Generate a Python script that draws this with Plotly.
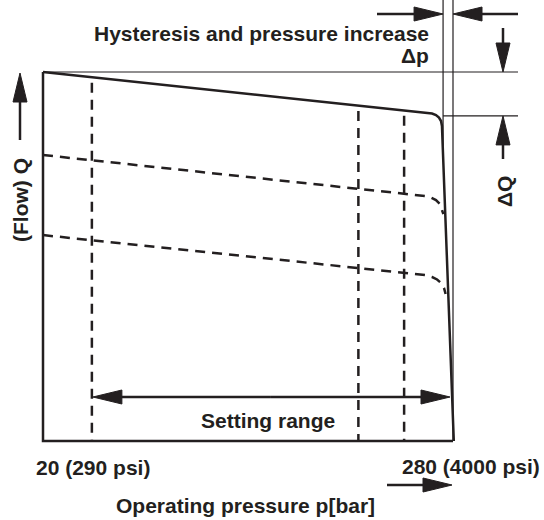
import numpy as np
import plotly.graph_objects as go

# ---------------- data (pressure in bar, flow Q in % of max) ----------------
tick_pressures = [20, 280]
tick_labels = ["20 (290 psi)", "280 (4000 psi)"]
setting_pressures = [51, 220, 249]          # dashed vertical setting lines

full_p = [20, 262.9, 266.7, 269.2, 271.1, 272.4, 273.0, 280.5]
full_q = [100, 89.0, 88.75, 88.35, 87.67, 86.72, 85.37, 0]

mid_p = [20, 262.2, 266.0, 269.2, 271.7, 273.0, 273.9]
mid_q = [77.5, 66.4, 65.99, 65.31, 64.23, 62.87, 61.5]

low_p = [20, 262.2, 266.7, 269.9, 272.4, 274.3, 275.3]
low_q = [55.8, 44.99, 44.44, 43.77, 42.82, 41.46, 39.84]

hyst_p = 273.7      # pressure where flow starts to drop (hysteresis line)
max_p = 280         # max pressure
hyst_q = 88.1       # flow at start of drop

# ---------------- geometry helpers ----------------
W, H = 544, 520
K = 410 / 260       # px per bar
S = 369 / 100       # px per % flow
X0, Y0 = 43, 441    # pixel of (20 bar, 0 %)


def X(px):
    return 20 + (px - X0) / K


def Y(py):
    return (Y0 - py) / S


def PX(p):
    return X0 + (p - 20) * K


def PY(q):
    return Y0 - q * S


INK = "#231f20"
FONT = dict(family="Liberation Sans, Arial, sans-serif", size=21, color=INK, weight="bold")

fig = go.Figure()


def line(xs, ys, width=2.5, dash=None):
    fig.add_trace(go.Scatter(x=xs, y=ys, mode="lines",
                             line=dict(color=INK, width=width, dash=dash),
                             hoverinfo="skip", showlegend=False))


def arrow(tail_px, tip_px, L=29, hw=7, width=2.5):
    tx, ty = tip_px
    sx, sy = tail_px
    d = np.array([tx - sx, ty - sy], float)
    d /= np.linalg.norm(d)
    n = np.array([-d[1], d[0]])
    base = np.array([tx, ty]) - d * L
    line([X(sx), X(base[0] + d[0] * 2)], [Y(sy), Y(base[1] + d[1] * 2)], width=width)
    c1 = base + n * hw
    c2 = base - n * hw
    xs = [tx, c1[0], c2[0], tx]
    ys = [ty, c1[1], c2[1], ty]
    fig.add_trace(go.Scatter(x=[X(v) for v in xs], y=[Y(v) for v in ys], mode="lines",
                             fill="toself", fillcolor=INK, line=dict(color=INK, width=1),
                             hoverinfo="skip", showlegend=False))


# frame (axes)
line([20, 20, max_p], [100, 0, 0], width=2.5)

# thin reference lines
right_edge = X(518)
line([20, right_edge], [100, 100], width=1.2)
line([max_p, max_p], [0, Y(0)], width=1.2)
line([hyst_p, hyst_p], [80, Y(0)], width=1.2)
line([hyst_p, right_edge], [hyst_q, hyst_q], width=1.2)

# setting lines (dashed verticals from top curve to bottom)
for p in setting_pressures:
    qtop = np.interp(p, full_p, full_q)
    line([p, p], [qtop - 1.5, 0], width=2.5, dash="10px,7px")

# characteristic curves
line(full_p, full_q, width=2.5)
line(mid_p, mid_q, width=2.5, dash="10px,7px")
line(low_p, low_q, width=2.5, dash="10px,7px")

# arrows
arrow((20, 140), (20, 73))                         # flow axis arrow
arrow((387, 485), (PX(max_p) - 1, 485))             # operating pressure arrow
sr_y = 397
arrow(((PX(51) + 450) / 2, sr_y), (PX(51) + 1, sr_y))   # setting range left
arrow(((PX(51) + 450) / 2, sr_y), (450, sr_y))           # setting range right
arrow((377, 14), (PX(hyst_p), 14))                  # delta p left arrow
arrow((518, 14), (PX(max_p), 14))                   # delta p right arrow
arrow((503, 28), (503, PY(100)))                    # delta Q top arrow
arrow((503, 159), (503, PY(hyst_q)))                # delta Q bottom arrow

# texts
ann = [
    dict(text="Hysteresis and pressure increase", x=X(431), y=Y(33), xanchor="right", yanchor="middle"),
    dict(text="Δp", x=X(431), y=Y(55), xanchor="right", yanchor="middle"),
    dict(text="(Flow) Q", x=X(20), y=Y(200), xanchor="center", yanchor="middle", textangle=-90),
    dict(text="ΔQ", x=X(504), y=Y(192), xanchor="center", yanchor="middle", textangle=-90),
    dict(text="Setting range", x=X(268), y=Y(420), xanchor="center", yanchor="middle"),
    dict(text=tick_labels[0], x=X(34), y=Y(467), xanchor="left", yanchor="middle"),
    dict(text=tick_labels[1], x=X(542), y=Y(466), xanchor="right", yanchor="middle"),
    dict(text="Operating pressure p[bar]", x=X(245), y=Y(505), xanchor="center", yanchor="middle"),
]
for a in ann:
    fig.add_annotation(xref="x", yref="y", showarrow=False, font=FONT, **a)

fig.update_layout(
    width=W, height=H,
    margin=dict(l=0, r=0, t=0, b=0),
    paper_bgcolor="white", plot_bgcolor="white",
    xaxis=dict(range=[X(0), X(W)], visible=False, fixedrange=True),
    yaxis=dict(range=[Y(H), Y(0)], visible=False, fixedrange=True),
    showlegend=False,
)

fig.write_html("out.html", config={"displayModeBar": False},
               post_script="document.body.style.margin='0';document.body.style.overflow='hidden';")
